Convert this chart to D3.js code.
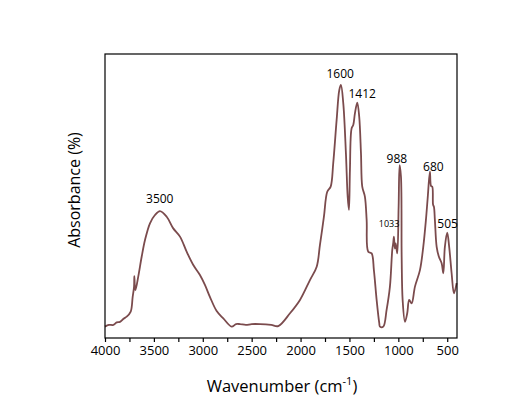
<!DOCTYPE html>
<html>
<head>
<meta charset="utf-8">
<script src="https://cdn.jsdelivr.net/npm/d3@7"></script>
<style>
  body { margin: 0; background: #fff; }
  text { font-family: "Open Sans", sans-serif; }
</style>
</head>
<body>
<svg id="chart" width="518" height="399"></svg>
<script>
// spectrum: wavenumber (cm-1) and absorbance (arbitrary 0-100)
var wavenumbers = [4000, 3960, 3915, 3880, 3847, 3810, 3778, 3737, 3717, 3703, 3700, 3693, 3688, 3660, 3625, 3591,
    3540, 3489, 3438, 3369, 3302, 3233, 3165, 3097, 3029, 2978, 2926, 2858, 2790, 2705, 2660, 2620, 2560, 2500, 2415, 2300, 2228,
    2108, 2006, 1904, 1835, 1802, 1761, 1727, 1692, 1666, 1631, 1604, 1587, 1563, 1536, 1518, 1505, 1495, 1478, 1461,
    1444, 1420, 1400, 1382, 1369, 1342, 1324, 1308, 1273, 1250, 1222, 1195, 1188, 1154, 1120, 1086, 1062, 1052, 1045,
    1036, 1027, 1011, 997, 987, 973, 966, 956, 932, 909, 889, 864, 830, 779, 745, 718, 700, 677, 665, 653, 645, 636, 626, 608,
    585, 557, 540, 524, 500, 480, 455, 431, 404];
var absorbance = [4.0, 4.6, 4.6, 5.5, 5.7, 6.8, 7.5, 9.3, 14.5, 18, 21.8, 17.5, 16.9, 21.6, 28.6, 34.5,
    40.4, 43.3, 44.7, 42.7, 38.6, 35.7, 30.4, 25.7, 22.2, 18.7, 14.4, 9.5, 6.9, 4.0, 4.9, 4.9, 4.6, 4.9, 4.9, 4.6, 4.2,
    8.7, 13.4, 20.4, 25.1, 32.7, 42.7, 51.5, 53.3, 61.5, 76.8, 87.3, 89.1, 82.6, 65, 49.8, 45.1, 59.2, 73.8, 75,
    79.1, 82.9, 77.9, 65, 53.3, 49.8, 41.5, 30.4, 29.8, 23.9, 13.4, 5.2, 4.0, 4.0, 9.9, 18.1, 31, 33.5, 35.7,
    31.5, 33.3, 29.8, 46.2, 60.9, 56.8, 28.6, 13.4, 5.7, 8.7, 13.4, 12.2, 18.1, 23.9, 32.1, 41.5, 49.2, 58.6, 53.5, 53.3, 47, 46.2, 41.5, 32.1,
    28.6, 26.3, 22.8, 32.1, 37.1, 32.1, 22.8, 15.7, 19.3];

// peak annotations: text, wavenumber and absorbance where the label sits
var peakLabels = ['3500', '1600', '1412', '1033', '988', '680', '505'];
var peakWn = [3440, 1595, 1370, 1095, 1015, 642, 496];
var peakAbs = [47.5, 91.5, 84.5, 39, 61.5, 58.8, 38.7];
var peakSmall = [false, false, false, true, false, false, false];

var xTicks = d3.range(4000, 499, -250);

var svg = d3.select('#chart');
var margin = { left: 105, right: 61, top: 54, bottom: 61 };
var width = 518 - margin.left - margin.right;
var height = 399 - margin.top - margin.bottom;

var x = d3.scaleLinear().domain([4000, 400]).range([0, width]);
var y = d3.scaleLinear().domain([0, 100]).range([height, 0]);

var g = svg.append('g').attr('transform', 'translate(' + margin.left + ',' + margin.top + ')');

var points = wavenumbers.map(function (w, i) { return [w, absorbance[i]]; });

var line = d3.line()
    .curve(d3.curveCatmullRom.alpha(0.5))
    .x(function (d) { return x(d[0]); })
    .y(function (d) { return y(d[1]); });

g.append('path')
    .datum(points)
    .attr('fill', 'none')
    .attr('stroke', '#7b4b4d')
    .attr('stroke-width', 1.8)
    .attr('stroke-linejoin', 'round')
    .attr('d', line);

// frame
g.append('rect')
    .attr('width', width)
    .attr('height', height)
    .attr('fill', 'none')
    .attr('stroke', '#000')
    .attr('stroke-width', 1.2);

var xAxis = d3.axisBottom(x)
    .tickValues(xTicks)
    .tickSize(4)
    .tickSizeOuter(0)
    .tickPadding(4)
    .tickFormat(function (d) { return d % 500 === 0 ? d : ''; });

var ax = g.append('g')
    .attr('transform', 'translate(0,' + height + ')')
    .call(xAxis);
ax.select('.domain').remove();
ax.selectAll('line').attr('stroke', '#000').attr('stroke-width', 1.2);
ax.selectAll('text')
    .attr('font-size', 13)
    .attr('fill', '#000')
    .style('font-family', '"Open Sans", sans-serif');

g.selectAll('.peak')
    .data(peakLabels)
    .enter().append('text')
    .attr('class', 'peak')
    .attr('x', function (d, i) { return x(peakWn[i]); })
    .attr('y', function (d, i) { return y(peakAbs[i]); })
    .attr('text-anchor', 'middle')
    .attr('font-size', function (d, i) { return peakSmall[i] ? 9 : 12; })
    .attr('fill', '#000')
    .text(function (d) { return d; });

// axis titles
var xt = svg.append('text')
    .attr('x', 282)
    .attr('y', 392)
    .attr('text-anchor', 'middle')
    .attr('font-size', 16.5)
    .attr('fill', '#000');
xt.append('tspan').text('Wavenumber (cm');
xt.append('tspan').attr('font-size', 11).attr('dy', -7).text('-1');
xt.append('tspan').attr('dy', 7).text(')');

svg.append('text')
    .attr('transform', 'translate(80,190) rotate(-90)')
    .attr('text-anchor', 'middle')
    .attr('font-size', 16)
    .attr('fill', '#000')
    .text('Absorbance (%)');
</script>
</body>
</html>
